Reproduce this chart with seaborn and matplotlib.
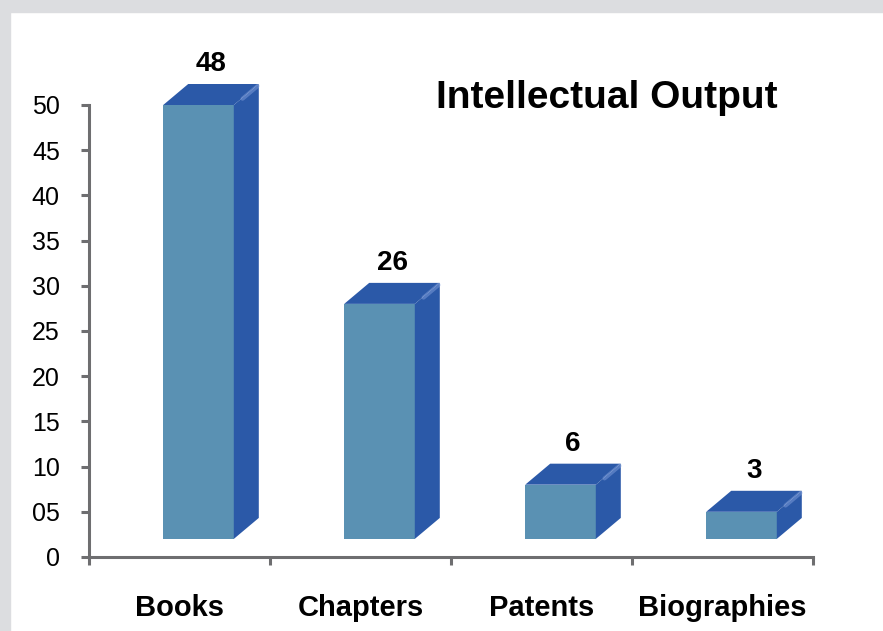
import matplotlib
matplotlib.use('Agg')
import matplotlib.pyplot as plt
from matplotlib.patches import Polygon, Rectangle
import seaborn as sns
import pandas as pd

categories = ['Books', 'Chapters', 'Patents', 'Biographies']
counts = [48, 26, 6, 3]
yticks = [0, 5, 10, 15, 20, 25, 30, 35, 40, 45, 50]
ytick_labels = ['0', '05', '10', '15', '20', '25', '30', '35', '40', '45', '50']

front_color = '#5a91b3'
side_color = '#2b59a8'
axis_color = '#6e6e70'
frame_gray = '#dcdde0'

sns.set_theme(style='white')
plt.rcParams['font.family'] = ['Liberation Sans', 'DejaVu Sans']

df = pd.DataFrame({'category': categories, 'count': counts})

fig = plt.figure(figsize=(8.83, 6.31), dpi=100)
fig.patch.set_facecolor('white')
# grey frame strips on top and left
fig.patches.append(Rectangle((0, 1 - 12 / 631), 1, 12 / 631, transform=fig.transFigure,
                             color=frame_gray, zorder=0))
fig.patches.append(Rectangle((0, 0), 10 / 883, 1, transform=fig.transFigure,
                             color=frame_gray, zorder=0))

ax = fig.add_axes([89 / 883, 74 / 631, 724 / 883, 452 / 631])
sns.barplot(data=df, x='category', y='count', color=front_color, width=0.39,
            saturation=1, ax=ax, zorder=3)
ax.set_xlim(-0.5, 3.5)
ax.set_ylim(0, 50)

# 3D look: raised floor, shifted front face, depth in pixels
floor = 2
shift = 0.105
inv = ax.transData.inverted()
x0, y0 = inv.transform((0, 0))
x1, y1 = inv.transform((25, 21))
ddx, ddy = x1 - x0, y1 - y0

for p, v in zip(list(ax.patches), counts):
    p.set_x(p.get_x() + shift)
    p.set_y(floor)
    p.set_edgecolor('none')
    p.set_clip_on(False)
    l = p.get_x()
    r = l + p.get_width()
    b = floor
    t = floor + p.get_height()
    top = Polygon([(l, t), (r, t), (r + ddx, t + ddy), (l + ddx, t + ddy)],
                  closed=True, facecolor=side_color, edgecolor='none', clip_on=False, zorder=3)
    side = Polygon([(r, b), (r + ddx, b + ddy), (r + ddx, t + ddy), (r, t)],
                   closed=True, facecolor=side_color, edgecolor='none', clip_on=False, zorder=3)
    ax.add_patch(top)
    ax.add_patch(side)
    # soft highlight along the top-right edge
    ax.plot([r + ddx * 0.35, r + ddx * 0.95], [t + ddy * 0.3, t + ddy * 0.9], color='#8aa6e0',
            lw=3, alpha=0.45, clip_on=False, zorder=4, solid_capstyle='round')
    ax.annotate(str(v), xy=((l + r + ddx) / 2, t + ddy), xytext=(0, 5), textcoords='offset points',
                ha='center', va='bottom', fontsize=20, fontweight='bold', color='black',
                annotation_clip=False)

# axes styling
sns.despine(ax=ax, top=True, right=True)
for s in ['left', 'bottom']:
    ax.spines[s].set_color(axis_color)
    ax.spines[s].set_linewidth(2.2)
ax.grid(False)
ax.set_xlabel('')
ax.set_ylabel('')

ax.set_yticks(yticks)
ax.set_yticklabels(ytick_labels)
ax.tick_params(axis='y', direction='out', length=6, width=2.2, color=axis_color,
               pad=15, labelsize=18, labelcolor='black', left=True)

ax.set_xticks(range(len(categories)))
ax.set_xticklabels(categories, fontweight='bold')
ax.set_xticks([-0.5, 0.5, 1.5, 2.5, 3.5], minor=True)
ax.tick_params(axis='x', which='major', length=0, pad=27, labelsize=21, labelcolor='black')
ax.tick_params(axis='x', which='minor', direction='out', length=6, width=2.2,
               color=axis_color, bottom=True)

fig.text(607 / 883, (631 - 108) / 631, 'Intellectual Output', ha='center', va='baseline',
         fontsize=28, fontweight='bold', color='black')

fig.savefig('out.png', dpi=100)
